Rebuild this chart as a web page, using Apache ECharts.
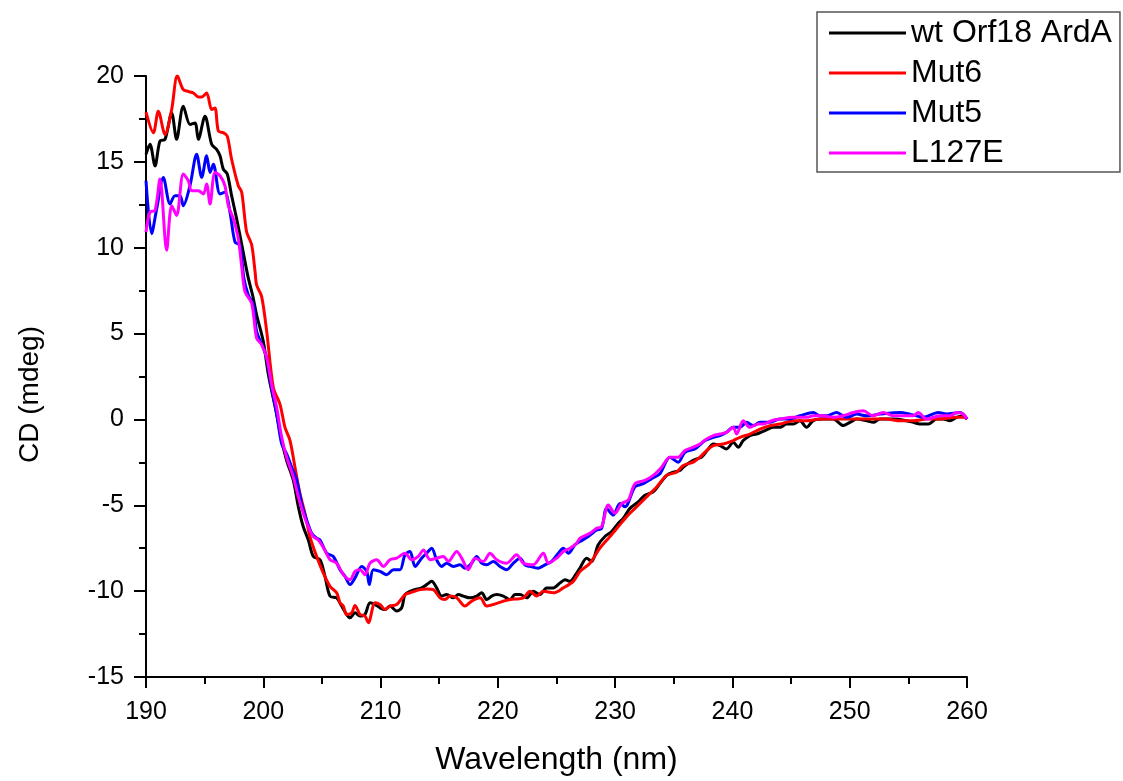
<!DOCTYPE html>
<html>
<head>
<meta charset="utf-8">
<script src="https://cdn.jsdelivr.net/npm/echarts@6/dist/echarts.min.js"></script>
<style>html,body{margin:0;padding:0;background:#fff}#c{width:1123px;height:781px}</style>
</head>
<body>
<div id="c"></div>
<script>
var seriesNames = ['wt Orf18 ArdA', 'Mut6', 'Mut5', 'L127E'];
var xTicks = [190, 200, 210, 220, 230, 240, 250, 260];
var yTicks = [-15, -10, -5, 0, 5, 10, 15, 20];

var wlWt = [190.0,190.34,190.77,191.19,191.62,192.19,192.61,193.18,193.75,194.18,194.46,195.03,195.6,196.02,196.31,196.59,196.93,197.3,197.73,198.16,198.7,199.1,199.43,200.0,200.43,201.14,201.57,201.99,202.56,202.99,203.41,203.84,204.27,204.84,205.26,205.69,206.26,206.68,207.11,207.4,207.82,208.25,208.67,209.1,209.53,209.95,210.38,210.8,211.37,211.8,212.08,212.51,212.94,213.5,213.93,214.36,214.78,215.21,215.64,216.2,216.63,217.06,217.63,218.19,218.62,219.05,219.47,219.9,220.47,221.04,221.46,221.89,222.46,223.02,223.59,224.16,224.73,225.3,225.72,226.15,226.72,227.0,227.57,227.99,228.56,229.13,229.7,230.27,230.69,231.26,231.97,232.54,233.25,233.82,234.39,234.96,235.53,235.81,236.38,236.95,237.37,237.94,238.37,238.94,239.5,240.07,240.5,240.92,241.49,242.06,242.77,243.48,244.05,244.62,245.19,245.76,246.32,246.89,247.74,248.6,249.45,250.02,250.59,251.44,252.01,252.58,253.71,254.85,255.42,255.99,256.7,257.41,257.97,258.54,259.11,259.68,260.0];
var cdWt = [15.44,16.02,14.77,16.21,16.31,17.85,16.31,18.24,17.18,17.27,16.31,17.66,16.02,15.73,15.35,14.58,14.29,13.03,11.68,10.2,8.3,7.2,6.09,4.55,2.62,0.31,-1.23,-2.39,-3.55,-5.09,-6.25,-7.02,-7.98,-8.17,-9.14,-10.29,-10.39,-10.87,-11.36,-11.55,-11.26,-11.45,-11.36,-10.68,-10.78,-10.97,-11.07,-10.87,-11.16,-10.97,-10.2,-10.01,-9.91,-9.81,-9.62,-9.43,-9.81,-10.29,-10.2,-10.39,-10.2,-10.29,-10.39,-10.29,-10.1,-10.49,-10.29,-10.2,-10.29,-10.49,-10.2,-10.2,-10.39,-10.01,-10.2,-9.81,-9.81,-9.52,-9.33,-9.43,-8.95,-8.65,-8.08,-8.27,-7.3,-6.82,-6.53,-6.05,-5.76,-5.18,-4.8,-4.41,-4.22,-3.74,-3.26,-3.07,-2.97,-2.78,-2.49,-2.3,-2.2,-1.72,-1.43,-1.52,-1.72,-1.33,-1.62,-1.23,-0.94,-0.85,-0.65,-0.46,-0.46,-0.27,-0.27,-0.075,-0.46,-0.075,0.02,0.02,-0.36,-0.17,0.02,-0.075,-0.17,0.02,0.02,-0.075,-0.17,-0.27,-0.27,0.02,0.02,-0.075,0.12,0.21,0.02];

var wlMut6 = [190.0,190.63,191.05,191.62,192.19,192.67,193.18,193.61,194.04,194.46,194.75,195.17,195.6,195.88,196.17,196.59,196.93,197.3,197.87,198.16,198.58,199.0,199.3,199.43,199.86,200.29,200.86,201.42,201.85,202.28,202.7,203.13,203.55,203.98,204.55,205.12,205.69,206.26,206.54,206.82,207.11,207.54,207.82,208.25,208.67,208.96,209.53,209.95,210.38,210.8,211.37,212.08,212.51,213.36,213.93,214.5,215.07,215.49,215.92,216.49,217.2,217.77,218.48,219.05,219.61,220.47,221.04,222.17,222.74,223.31,223.88,224.73,225.58,226.43,227.0,227.85,228.7,229.56,230.27,230.98,231.69,232.68,233.54,234.39,235.24,235.81,236.66,237.23,237.8,238.37,239.22,240.07,240.64,241.49,242.35,243.2,244.05,245.19,246.32,247.46,248.6,249.73,250.87,252.01,253.14,254.28,255.42,256.55,257.69,258.83,259.68,260.0];
var cdMut6 = [17.9,16.70,17.95,16.60,18.05,20.01,19.20,19.10,19.01,18.78,18.78,19.01,18.05,18.14,16.79,16.70,16.50,15.15,13.61,13.23,10.91,10.2,8.6,7.83,7.15,5.13,1.85,0.89,-0.46,-1.23,-2.78,-4.32,-5.47,-6.82,-7.98,-8.95,-9.72,-10.1,-10.68,-10.87,-11.36,-11.26,-10.83,-11.36,-11.45,-11.84,-10.68,-10.78,-11.07,-10.87,-10.78,-10.2,-10.1,-9.91,-9.87,-9.91,-10.39,-10.49,-10.29,-10.39,-10.87,-10.58,-10.39,-10.87,-10.78,-10.58,-10.49,-10.39,-10.01,-10.29,-10.01,-10.1,-9.81,-9.43,-8.85,-8.37,-7.5,-6.82,-6.24,-5.66,-5.18,-4.51,-3.93,-3.26,-3.07,-2.68,-2.49,-2.2,-1.81,-1.52,-1.43,-1.23,-1.04,-0.85,-0.56,-0.36,-0.27,-0.075,-0.075,0.02,0.02,0.02,0.02,0.02,0.02,-0.075,-0.075,0.02,0.02,0.12,0.12,0.02];

var wlMut5 = [190.0,190.48,190.91,191.48,192.05,192.47,192.9,193.18,193.75,194.32,194.75,195.17,195.46,195.74,196.31,196.73,197.16,197.59,198.01,198.35,198.72,199.15,199.43,200.0,200.29,200.71,201.14,201.57,201.99,202.42,202.85,203.27,203.7,204.13,204.55,204.84,205.41,205.97,206.54,206.97,207.4,207.82,208.39,208.82,209.04,209.38,209.95,210.52,211.09,211.66,212.08,212.51,212.94,213.5,213.93,214.36,214.78,215.21,215.64,216.2,216.77,217.2,217.77,218.19,218.62,219.05,219.61,220.18,220.75,221.32,221.89,222.31,222.74,223.45,224.02,224.59,225.16,225.58,226.01,226.58,227.0,227.71,228.42,228.85,229.27,229.84,230.41,230.84,231.69,232.4,233.11,233.82,234.67,235.38,235.95,236.8,237.66,238.37,238.94,239.5,240.07,240.64,241.21,241.78,242.35,243.2,244.05,244.76,245.76,246.89,247.46,248.03,248.88,249.73,250.59,251.44,252.58,254.28,255.13,255.7,256.27,257.55,258.26,259.4,260.0];
var cdMut5 = [13.9,10.82,12.26,14.09,12.55,13.03,13.03,12.45,13.61,15.44,14.09,15.35,14.38,14.86,13.13,13.23,12.07,10.33,10.14,8.2,7.25,6.67,5.13,4.16,3.59,1.85,0.31,-1.43,-2.0,-2.78,-3.55,-4.9,-5.86,-6.63,-6.92,-7.02,-7.79,-7.98,-8.75,-9.14,-9.62,-9.23,-8.56,-8.85,-9.62,-8.75,-8.85,-9.04,-8.75,-8.75,-7.88,-7.69,-8.56,-8.08,-7.79,-7.5,-8.18,-8.56,-8.37,-8.56,-8.47,-8.66,-8.37,-7.98,-8.37,-8.47,-8.27,-8.56,-8.75,-8.37,-8.08,-8.47,-8.56,-8.66,-8.47,-8.27,-7.79,-7.5,-7.79,-7.3,-7.11,-6.82,-6.44,-6.34,-5.18,-5.57,-4.9,-5.09,-3.93,-3.74,-3.45,-3.16,-2.2,-2.49,-1.91,-1.72,-1.23,-1.04,-0.94,-0.75,-0.46,-0.46,-0.17,-0.36,-0.17,-0.17,0.02,0.02,0.21,0.4,0.21,0.21,0.4,0.12,0.31,0.21,0.31,0.4,0.31,0.21,0.12,0.4,0.31,0.4,0.02];

var wlL127E = [190.0,190.34,190.77,191.19,191.76,192.19,192.61,193.18,193.61,193.89,194.46,194.89,195.17,195.46,195.88,196.31,196.73,197.02,197.45,197.87,198.16,198.44,199.01,199.43,199.86,200.29,200.71,201.14,201.57,201.99,202.56,202.99,203.41,203.84,204.27,204.69,205.2,205.69,206.26,206.83,207.4,207.82,208.25,208.67,209.1,209.67,210.24,210.8,211.37,212.08,212.65,213.22,213.65,214.22,214.78,215.35,215.78,216.49,216.92,217.48,218.05,218.76,219.33,219.9,220.75,221.6,222.17,223.02,223.88,224.3,225.01,225.58,226.15,226.72,227.0,227.85,228.42,228.85,229.42,229.98,230.55,231.12,231.69,232.54,233.25,233.96,234.67,235.38,235.95,236.66,237.23,237.8,238.37,238.94,239.5,240.07,240.36,240.92,241.49,242.2,242.63,243.34,244.05,245.19,246.32,246.89,247.74,248.6,249.45,250.3,251.15,252.01,252.86,253.71,254.28,255.42,255.84,256.55,257.69,258.54,259.11,259.68,260.0];
var cdL127E = [10.91,12.07,12.17,14.0,9.85,12.45,11.88,14.29,13.9,13.32,13.32,13.13,13.71,12.55,14.38,14.19,13.61,12.45,11.68,10.53,8.9,7.44,6.77,4.74,4.36,3.59,2.04,0.69,-1.04,-2.2,-3.36,-4.51,-5.47,-6.25,-6.83,-7.02,-7.55,-8.17,-8.37,-9.04,-9.33,-8.85,-8.75,-9.04,-8.37,-8.17,-8.56,-8.17,-8.08,-7.79,-8.17,-7.98,-7.6,-8.17,-8.08,-7.98,-8.27,-7.69,-8.08,-8.75,-8.08,-8.27,-7.79,-8.17,-8.37,-7.88,-8.37,-8.47,-7.79,-8.37,-8.08,-7.69,-7.5,-7.21,-6.92,-6.63,-6.34,-6.24,-4.99,-5.47,-4.9,-4.7,-3.74,-3.55,-3.26,-2.78,-2.2,-2.2,-1.81,-1.62,-1.43,-1.14,-0.94,-0.85,-0.75,-0.46,-0.85,-0.075,-0.46,-0.27,-0.27,-0.075,0.02,0.12,0.12,0.21,0.21,0.12,0.21,0.4,0.5,0.21,0.4,0.21,0.21,0.21,0.4,0.02,0.21,0.21,0.4,0.31,0.02];

var colors = ['#000000', '#ff0000', '#0000ff', '#ff00ff'];
var wls = [wlWt, wlMut6, wlMut5, wlL127E];
var cds = [cdWt, cdMut6, cdMut5, cdL127E];

function pairs(xs, ys) { return xs.map(function (x, i) { return [x, ys[i]]; }); }

var FONT = '"Liberation Sans", Arial, Helvetica, sans-serif';
var chart = echarts.init(document.getElementById('c'));
chart.setOption({
  animation: false,
  backgroundColor: '#ffffff',
  textStyle: { fontFamily: FONT },
  grid: { left: 146, right: 156, top: 76, bottom: 100, containLabel: false },
  legend: {
    orient: 'vertical',
    left: 817, top: 12,
    padding: [5, 8, 3, 12],
    icon: 'rect',
    itemWidth: 77, itemHeight: 3, itemGap: 8,
    borderColor: '#555555', borderWidth: 1.5,
    textStyle: { fontFamily: FONT, fontSize: 32, color: '#000', lineHeight: 32 },
    data: seriesNames
  },
  xAxis: {
    type: 'value', min: xTicks[0], max: xTicks[xTicks.length - 1], interval: 10,
    name: 'Wavelength (nm)', nameLocation: 'middle', nameGap: 67,
    nameTextStyle: { fontFamily: FONT, fontSize: 32, color: '#000' },
    axisLine: { show: true, onZero: false, lineStyle: { color: '#000', width: 2 } },
    axisTick: { show: true, length: 11, lineStyle: { color: '#000', width: 2 } },
    minorTick: { show: true, splitNumber: 2, length: 7, lineStyle: { color: '#000', width: 2 } },
    axisLabel: { fontFamily: FONT, fontSize: 25, color: '#000', margin: 23 },
    splitLine: { show: false }
  },
  yAxis: {
    type: 'value', min: yTicks[0], max: yTicks[yTicks.length - 1], interval: 5,
    name: 'CD (mdeg)', nameLocation: 'middle', nameGap: 102, nameRotate: 90,
    nameTextStyle: { fontFamily: FONT, fontSize: 28, color: '#000', padding: [0, 36, 0, 0] },
    axisLine: { show: true, onZero: false, lineStyle: { color: '#000', width: 2 } },
    axisTick: { show: true, length: 12, lineStyle: { color: '#000', width: 2 } },
    minorTick: { show: true, splitNumber: 2, length: 7, lineStyle: { color: '#000', width: 2 } },
    axisLabel: { fontFamily: FONT, fontSize: 25, color: '#000', margin: 22 },
    splitLine: { show: false }
  },
  series: seriesNames.map(function (n, k) {
    return {
      name: n, type: 'line', data: pairs(wls[k], cds[k]),
      showSymbol: false, symbol: 'none', smooth: 0.3,
      lineStyle: { color: colors[k], width: 3 },
      itemStyle: { color: colors[k] },
      clip: true
    };
  })
});
</script>
</body>
</html>
